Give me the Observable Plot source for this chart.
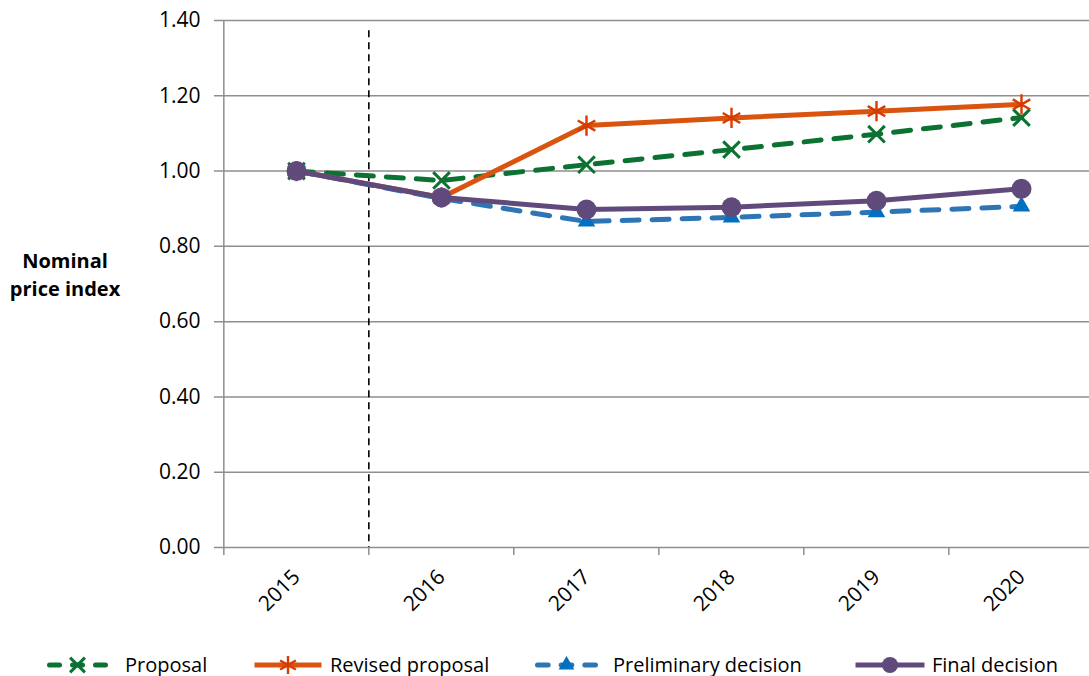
<!DOCTYPE html>
<html><head><meta charset="utf-8">
<script src="https://cdn.jsdelivr.net/npm/d3@7"></script>
<script src="https://cdn.jsdelivr.net/npm/@observablehq/plot@0.6"></script>
<style>
body{margin:0;background:#fff;font-family:"Open Sans",sans-serif;}
#chart{width:1089px;height:635px;}
#chart svg{display:block;}
#legend{position:relative;width:1089px;height:41px;font-family:"Open Sans",sans-serif;font-size:20px;color:#000;}
.item{position:absolute;top:9px;height:41px;}
.item svg{position:absolute;top:8px;}
.item span{position:absolute;top:0;line-height:41px;white-space:nowrap;}
</style></head><body><div id="chart"></div><div id="legend"></div>
<script>
// ---- data ----
const years = ["2015", "2016", "2017", "2018", "2019", "2020"];
const proposal = [1.000, 0.975, 1.017, 1.057, 1.098, 1.142];
const revisedProposal = [1.000, 0.930, 1.121, 1.141, 1.159, 1.177];
const preliminaryDecision = [1.000, 0.927, 0.866, 0.877, 0.891, 0.906];
const finalDecision = [1.000, 0.930, 0.898, 0.904, 0.921, 0.953];
const seriesNames = ["Proposal", "Revised proposal", "Preliminary decision", "Final decision"];
const yTicks = [0, 0.2, 0.4, 0.6, 0.8, 1.0, 1.2, 1.4];
const yLabel = "Nominal\nprice index";

// ---- styles ----
const seriesValues = [proposal, revisedProposal, preliminaryDecision, finalDecision];
const styles = [
  {line: "#0b7232", marker: "#0b7232", dash: "17,13", symbol: "times", r: 7.6, stroked: true, mw: 3},
  {line: "#d9540f", marker: "#d83b01", dash: null, symbol: "asterisk", r: 9.6, stroked: true, mw: 2.4},
  {line: "#2e75b6", marker: "#0070c0", dash: "17,13", symbol: "triangle", r: 6.5, stroked: false},
  {line: "#604a7b", marker: "#604a7b", dash: null, symbol: "circle", r: 10, stroked: false}
];
const gridColor = "#8e8e8e";
const W = 1089, H = 635, mL = 222, mR = -5, mT = 20, mB = 88;
const step = (W - mR - mL) / years.length;

const marks = [
  Plot.ruleY(yTicks, {y: d => d, stroke: gridColor, strokeWidth: 1.5, insetLeft: -8}),
  Plot.ruleX([years[0]], {x: d => d, dx: -step / 2, stroke: gridColor, strokeWidth: 1.5}),
  Plot.ruleX(years, {x: d => d, y1: () => 0, y2: () => 0, insetBottom: -8, dx: -step / 2, stroke: gridColor, strokeWidth: 1.5}),
  Plot.ruleX([years[1]], {x: d => d, y1: () => 1.373, y2: () => 0, dx: -step / 2, stroke: "#000", strokeWidth: 1.6, strokeDasharray: "7,5"}),
  Plot.text(yTicks, {y: d => d, frameAnchor: "left", dx: -22, textAnchor: "end", text: d => d.toFixed(2), fill: "#000", fontSize: 21}),
  Plot.text(years, {x: d => d, text: d => d, frameAnchor: "bottom", lineAnchor: "middle", dy: 26, rotate: -45, textAnchor: "end", fill: "#000", fontSize: 21}),
  Plot.text([yLabel], {text: d => d, frameAnchor: "left", dx: -157.5, dy: -11, textAnchor: "middle", lineAnchor: "middle", lineHeight: 1.4, fontWeight: "bold", fontSize: 20, fill: "#000"})
];

seriesValues.forEach((vals, i) => {
  const s = styles[i];
  const rows = years.map((y, j) => ({year: y, value: vals[j], series: seriesNames[i]}));
  marks.push(Plot.line(rows, {x: "year", y: "value", stroke: s.line, strokeWidth: 5,
    strokeDasharray: s.dash || undefined, strokeLinecap: s.dash ? "round" : "butt", strokeLinejoin: "round"}));
  marks.push(Plot.dot(rows, s.stroked
    ? {x: "year", y: "value", symbol: s.symbol, r: s.r, stroke: s.marker, strokeWidth: s.mw, fill: "none"}
    : {x: "year", y: "value", symbol: s.symbol, r: s.r, fill: s.marker, stroke: "none"}));
});

const chart = Plot.plot({
  width: W, height: H,
  marginLeft: mL, marginRight: mR, marginTop: mT, marginBottom: mB,
  style: {fontFamily: "Open Sans", fontSize: "21px", background: "white", overflow: "hidden"},
  x: {type: "point", domain: years, padding: 0.5, axis: null},
  y: {domain: [0, 1.4], axis: null},
  marks
});
document.getElementById("chart").appendChild(chart);

// ---- legend ----
const swatchLeft = [47, 252, 535, 853];
const swatchWidth = [61, 72, 63, 74];
const textLeft = [125, 330, 613, 932];
const symbolMap = {times: d3.symbolTimes, asterisk: d3.symbolAsterisk, triangle: d3.symbolTriangle, circle: d3.symbolCircle};
const legend = d3.select("#legend");
seriesNames.forEach((name, i) => {
  const s = styles[i];
  const w = swatchWidth[i];
  const item = legend.append("div").attr("class", "item").style("left", swatchLeft[i] + "px");
  const svg = item.append("svg").attr("width", w).attr("height", 26).style("left", "0px");
  const line = svg.append("line").attr("x1", 2.5).attr("x2", w - 2.5).attr("y1", 13).attr("y2", 13)
    .attr("stroke", s.line).attr("stroke-width", 5);
  if (s.dash) {
    const gap = 13, dl = (w - 5 - 2 * gap) / 3;
    line.attr("stroke-dasharray", `${dl},${gap}`).attr("stroke-linecap", "round");
  }
  const size = Math.PI * s.r * s.r * (s.symbol === "circle" ? 0.65 : 0.8);
  const p = svg.append("path").attr("transform", `translate(${w / 2},13)`)
    .attr("d", d3.symbol(symbolMap[s.symbol], size)());
  if (s.stroked) p.attr("fill", "none").attr("stroke", s.marker).attr("stroke-width", s.mw);
  else p.attr("fill", s.marker);
  item.append("span").style("left", (textLeft[i] - swatchLeft[i]) + "px").text(name);
});
</script>
</body></html>
